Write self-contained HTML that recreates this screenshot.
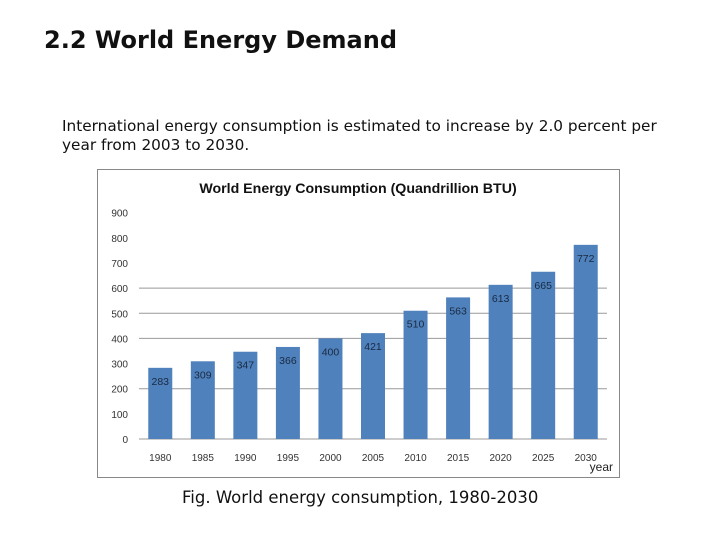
<!DOCTYPE html>
<html><head><meta charset="utf-8"><style>
body{margin:0;width:720px;height:540px;background:#fff;position:relative;font-family:"DejaVu Sans","Liberation Sans",sans-serif;overflow:hidden}
.t{position:absolute;white-space:nowrap}
</style></head><body>
<div class="t" style="left:44px;top:26px;font-size:24px;font-weight:bold;color:#111">2.2 World Energy Demand</div>
<div class="t" style="left:62px;top:117px;font-size:15.3px;line-height:19px;color:#111">International energy consumption is estimated to increase by 2.0 percent per<br>year from 2003 to 2030.</div>
<svg width="720" height="540" style="position:absolute;left:0;top:0" id="c">
<rect x="97.5" y="169.5" width="522" height="308" fill="#fff" stroke="#888" stroke-width="1"/>
<text x="358" y="193" text-anchor="middle" font-size="14.2" font-weight="bold" fill="#111" font-family="Liberation Sans, sans-serif">World Energy Consumption  (Quandrillion BTU)</text>
<text x="613" y="471" text-anchor="end" font-size="12" fill="#222" font-family="Liberation Sans, sans-serif">year</text>
</svg>
<div class="t" style="left:182px;top:488px;font-size:16.5px;color:#111">Fig. World energy consumption, 1980-2030</div>
<script>
const categories=["1980","1985","1990","1995","2000","2005","2010","2015","2020","2025","2030"];
const values=[283,309,347,366,400,421,510,563,613,665,772];
const yTicks=[0,100,200,300,400,500,600,700,800,900];
const gridValues=[200,400,500,600];
const svg=document.getElementById('c');const NS='http://www.w3.org/2000/svg';
const x0=139,x1=607,y0=439,ppu=0.2515;
const step=(x1-x0)/categories.length;
const X=i=>x0+step*(i+0.5);
const Y=v=>y0-v*ppu;
function mk(t,a,txt){const e=document.createElementNS(NS,t);for(const k in a)e.setAttribute(k,a[k]);if(txt!=null)e.textContent=txt;svg.appendChild(e);return e;}
gridValues.forEach(v=>{const e=mk('line',{x1:x0,x2:x1,y1:Y(v),y2:Y(v),stroke:'#999','stroke-width':1});

});
{const e=mk('line',{x1:x0,x2:x1,y1:y0,y2:y0,stroke:'#999','stroke-width':1});

}
yTicks.forEach(v=>{const e=mk('text',{x:128,y:Y(v)+4,'text-anchor':'end','font-size':10,fill:'#333','font-family':'Liberation Sans, sans-serif'},v);

});
values.forEach((v,i)=>{
const b=mk('rect',{x:X(i)-12,y:Y(v),width:24,height:y0-Y(v),fill:'#4f81bd'});


const l=mk('text',{x:X(i),y:Y(v)+17,'text-anchor':'middle','font-size':10.5,fill:'#1a2a40','font-family':'Liberation Sans, sans-serif'},v);


const c=mk('text',{x:X(i),y:461,'text-anchor':'middle','font-size':10,fill:'#333','font-family':'Liberation Sans, sans-serif'},categories[i]);


});
</script>
</body></html>
